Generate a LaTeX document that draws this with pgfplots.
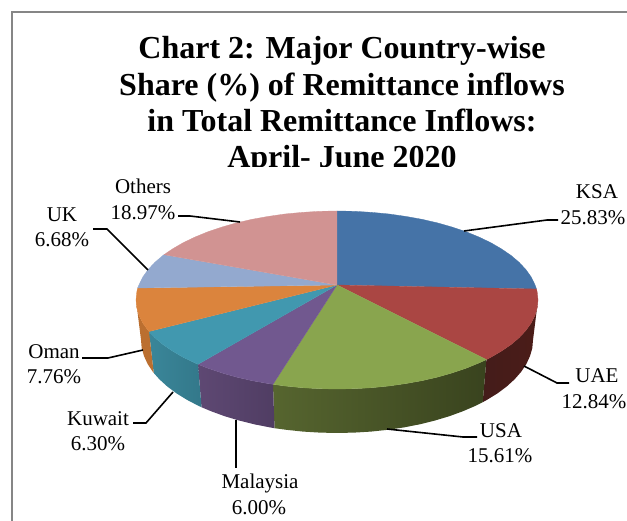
\documentclass[border=0pt]{standalone}
\usepackage{pgfplots}
\pgfplotsset{compat=1.18}
\usepackage{fontspec}
\setmainfont{Liberation Serif}
\definecolor{ksa}{HTML}{4573A7}
\definecolor{uae}{HTML}{AA4643}
\definecolor{usa}{HTML}{89A54E}
\definecolor{mal}{HTML}{71588F}
\definecolor{kuw}{HTML}{4198AF}
\definecolor{oma}{HTML}{DB843D}
\definecolor{ukk}{HTML}{93A9CF}
\definecolor{oth}{HTML}{D19392}
\definecolor{frame}{HTML}{868686}
\definecolor{uaeL}{HTML}{441C1A}
\definecolor{uaeR}{HTML}{4B1C18}
\definecolor{usaL}{HTML}{56652F}
\definecolor{usaR}{HTML}{39431E}
\definecolor{malL}{HTML}{5E4873}
\definecolor{malR}{HTML}{503D63}
\definecolor{kuwL}{HTML}{3A8699}
\definecolor{kuwR}{HTML}{33788A}
\definecolor{omaS}{HTML}{BB6F30}
\newcommand{\lab}[3]{\node[anchor=base,inner sep=0pt,font=\fontsize{21}{24}\selectfont] at (axis cs:#1,#2) {#3};}
\newcommand{\ttl}[2]{\node[anchor=base,inner sep=0pt,font=\fontsize{32}{36}\selectfont\bfseries] at (axis cs:342,#1) {#2};}
\begin{document}
\begin{tikzpicture}
\begin{axis}[
  scale only axis,
  width=627pt,
  height=521pt,
  xmin=0,xmax=627,
  ymin=0,ymax=521,
  y dir=reverse,
  hide axis,
]
% background keeps the whole page in the bounding box
\addplot[fill=white,draw=white] coordinates {(0,0) (627,0) (627,521) (0,521)};
\path (axis cs:0,0) rectangle (axis cs:627,521);
% frame
\addplot[frame,line width=2pt] coordinates {(11.5,521) (11.5,12.5) (627,12.5)};

% side walls (pixel positions)
\addplot[draw=none,left color=uaeL,right color=uaeR] coordinates {(538,300) (537.2,307.8) (534.9,315.5) (531.2,323) (525.9,330.4) (519.2,337.6) (511.1,344.5) (501.6,351) (491,357.2) (486.4,359.6)
  (482.7,402.2) (487.1,399.8) (497.6,393.3) (506.7,386.5) (514.6,379.3) (521.2,371.8) (526.3,364.1) (530,356.1) (532.3,348.1) (533,340)};
\addplot[draw=none,left color=usaL,right color=usaR] coordinates {(486.4,359.6) (479.1,362.9) (466.2,368.2) (452.3,372.9) (437.5,377.1) (421.9,380.7) (405.7,383.6) (389,386) (371.9,387.7) (354.5,388.7) (337,389) (319.5,388.7) (302.1,387.7) (285,386) (273,384.3)
  (274.5,428.2) (286.3,429.8) (303,431.6) (319.9,432.6) (337,433) (354.1,432.6) (371,431.6) (387.7,429.8) (404,427.4) (419.8,424.3) (435,420.5) (449.4,416.2) (463,411.2) (475.6,405.8) (482.7,402.2)};
\addplot[draw=none,left color=malL,right color=malR] coordinates {(273,384.3) (268.3,383.6) (252.1,380.7) (236.5,377.1) (221.7,372.9) (207.8,368.2) (198,364.3)
  (201.5,407.2) (211,411.2) (224.6,416.2) (239,420.5) (254.2,424.3) (270,427.4) (274.5,428.2)};
\addplot[draw=none,left color=kuwL,right color=kuwR] coordinates {(198,364.3) (194.9,362.9) (183,357.2) (172.4,351) (162.9,344.5) (154.8,337.6) (149,331.5)
  (153.7,372.9) (159.4,379.3) (167.3,386.5) (176.4,393.3) (186.9,399.8) (198.4,405.8) (201.5,407.2)};
\addplot[draw=none,fill=omaS] coordinates {(149,331.5) (148.1,330.4) (142.8,323) (139.1,315.5) (136.8,307.8) (136,300)
  (141,340) (141.7,348.1) (144,356.1) (147.7,364.1) (152.8,371.8) (153.7,372.9)};

% top faces
\addplot[fill=ksa,draw=ksa,line width=.3pt] coordinates {(337,285) (337,211) (354.5,211.3) (371.9,212.4) (389,214) (405.7,216.4) (421.9,219.3) (437.5,222.9) (452.3,227.1) (466.2,231.8) (479.1,237.1) (491,242.8) (501.6,249) (511.1,255.5) (519.2,262.4) (525.9,269.6) (531.2,277) (534.9,284.6) (536.5,289)};
\addplot[fill=uae,draw=uae,line width=.3pt] coordinates {(337,285) (536.5,289) (537.2,292.2) (538,300) (537.2,307.8) (534.9,315.5) (531.2,323) (525.9,330.4) (519.2,337.6) (511.1,344.5) (501.6,351) (491,357.2) (486.4,359.6)};
\addplot[fill=usa,draw=usa,line width=.3pt] coordinates {(337,285) (486.4,359.6) (479.1,362.9) (466.2,368.2) (452.3,372.9) (437.5,377.1) (421.9,380.7) (405.7,383.6) (389,386) (371.9,387.7) (354.5,388.7) (337,389) (319.5,388.7) (302.1,387.7) (285,386) (273,384.3)};
\addplot[fill=mal,draw=mal,line width=.3pt] coordinates {(337,285) (273,384.3) (268.3,383.6) (252.1,380.7) (236.5,377.1) (221.7,372.9) (207.8,368.2) (198,364.3)};
\addplot[fill=kuw,draw=kuw,line width=.3pt] coordinates {(337,285) (198,364.3) (194.9,362.9) (183,357.2) (172.4,351) (162.9,344.5) (154.8,337.6) (149,331.5)};
\addplot[fill=oma,draw=oma,line width=.3pt] coordinates {(337,285) (149,331.5) (148.1,330.4) (142.8,323) (139.1,315.5) (136.8,307.8) (136,300) (136.8,292.2) (137.6,288)};
\addplot[fill=ukk,draw=ukk,line width=.3pt] coordinates {(337,285) (137.6,288) (139.1,284.6) (142.8,277) (148.1,269.6) (154.8,262.4) (162.9,255.5) (164,254.7)};
\addplot[fill=oth,draw=oth,line width=.3pt] coordinates {(337,285) (164,254.7) (172.4,249) (183,242.8) (194.9,237.1) (207.8,231.8) (221.7,227.1) (236.5,222.9) (252.1,219.3) (268.3,216.4) (285,214) (302.1,212.4) (319.5,211.3) (337,211)};

% leader lines
\addplot[black,line width=1.6pt] coordinates {(464,231) (547,220) (558,220)};
\addplot[black,line width=1.6pt] coordinates {(524,366) (557,383) (569,383)};
\addplot[black,line width=1.6pt] coordinates {(387,429) (463,437) (477,437)};
\addplot[black,line width=1.6pt] coordinates {(236,420) (236,468)};
\addplot[black,line width=1.6pt] coordinates {(173,392) (146,423) (133,423)};
\addplot[black,line width=1.6pt] coordinates {(143,350) (108,358) (82,358)};
\addplot[black,line width=1.6pt] coordinates {(148,270) (107,229) (93,229)};
\addplot[black,line width=1.6pt] coordinates {(240,222) (190,216) (178,216)};

% title, last line cut off by the plot area
\ttl{59}{Chart 2: Major Country-wise}
\ttl{96}{Share (\%) of Remittance inflows}
\ttl{132}{in Total Remittance Inflows:}
\begin{scope}
\clip (axis cs:0,100) rectangle (axis cs:627,166.5);
\ttl{168}{April- June 2020}
\end{scope}

% data labels
\lab{143}{194}{Others}
\lab{143}{220}{18.97\%}
\lab{597}{199}{KSA}
\lab{593}{225}{25.83\%}
\lab{62}{222}{UK}
\lab{62}{247}{6.68\%}
\lab{597}{383}{UAE}
\lab{594}{409}{12.84\%}
\lab{501}{438}{USA}
\lab{500}{463}{15.61\%}
\lab{260}{489}{Malaysia}
\lab{259}{514}{6.00\%}
\lab{98}{425}{Kuwait}
\lab{98}{450}{6.30\%}
\lab{54}{359}{Oman}
\lab{54}{384}{7.76\%}
\end{axis}
\end{tikzpicture}
\end{document}
